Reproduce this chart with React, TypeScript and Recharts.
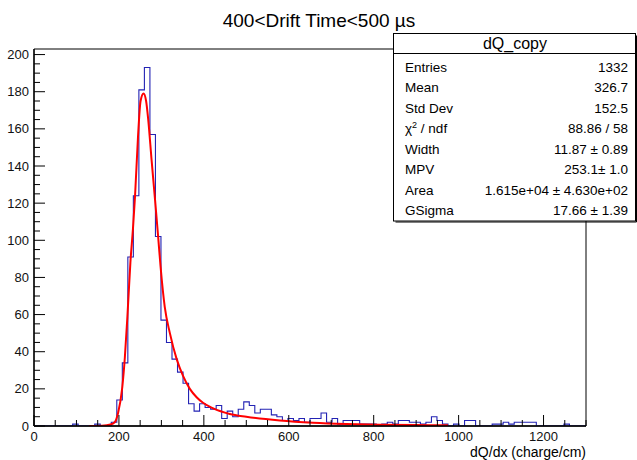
import React from 'react';
import { LineChart, Line, XAxis, YAxis, ReferenceArea } from 'recharts';

// Histogram: 100 bins of width 13 from 0 to 1300
const BIN_WIDTH = 13;
const binCounts = [
  0, 0, 0, 0, 0, 0, 0, 1, 0, 0,
  0, 1, 0, 0, 2, 14, 34, 91, 124, 181,
  193, 157, 102, 57, 45, 36, 29, 23, 12, 8,
  12, 10, 9, 11, 4, 8, 5, 9, 13, 11,
  7, 9, 9, 6, 5, 3, 4, 3, 4, 2,
  4, 4, 7, 2, 4, 1, 3, 3, 3, 1,
  1, 1, 0, 1, 2, 1, 3, 3, 2, 2,
  1, 2, 5, 3, 1, 0, 1, 0, 3, 3,
  0, 0, 0, 1, 1, 2, 1, 2, 2, 2,
  2, 0, 0, 0, 0, 0, 1, 0, 0, 0,
];

// Landau (x) Gauss fit curve
const fitX = [130, 160, 180, 190, 198, 208, 214, 220, 227, 233, 238, 245, 251, 258, 264, 269, 277, 285, 292, 298, 308, 320, 336, 351, 367, 383, 398, 422, 461, 500, 579, 657, 736, 814, 900, 975];
const fitY = [0, 0.2, 0.8, 2, 7, 21, 37, 59, 88, 106, 124, 156, 175, 179, 175, 165, 143, 122, 103, 86, 64, 50, 36, 27, 20, 15.5, 12.5, 9.5, 6.5, 5, 3, 1.8, 1.1, 0.7, 0.5, 0.4];

const xTicks = [0, 50, 100, 150, 200, 250, 300, 350, 400, 450, 500, 550, 600, 650, 700, 750, 800, 850, 900, 950, 1000, 1050, 1100, 1150, 1200, 1250, 1300];
const xLabelTicks = [0, 200, 400, 600, 800, 1000, 1200];
const yTicks = [0, 5, 10, 15, 20, 25, 30, 35, 40, 45, 50, 55, 60, 65, 70, 75, 80, 85, 90, 95, 100, 105, 110, 115, 120, 125, 130, 135, 140, 145, 150, 155, 160, 165, 170, 175, 180, 185, 190, 195, 200];
const yLabelTicks = [0, 20, 40, 60, 80, 100, 120, 140, 160, 180, 200];

const titleText = '400<Drift Time<500 µs';
const xAxisTitle = 'dQ/dx (charge/cm)';
const statsTitle = 'dQ_copy';
const statsNames = ['Entries', 'Mean', 'Std Dev', 'CHI2', 'Width', 'MPV', 'Area', 'GSigma'];
const statsValues = ['1332', '326.7', '152.5', '88.86 / 58', '11.87 ± 0.89', '253.1± 1.0', '1.615e+04 ± 4.630e+02', '17.66 ± 1.39'];

const histData = [
  ...binCounts.map((c, i) => ({ x: i * BIN_WIDTH, count: c })),
  { x: binCounts.length * BIN_WIDTH, count: binCounts[binCounts.length - 1] },
];
const fitData = fitX.map((x, i) => ({ x, fit: fitY[i] }));

const FONT = '"Liberation Sans", Arial, Helvetica, sans-serif';

const XTick = (props: any) => {
  const { x, y, payload } = props;
  const v = payload.value;
  const major = xLabelTicks.includes(v);
  return (
    <g>
      <line x1={x} x2={x} y1={y} y2={y - (major ? 11 : 6)} stroke="#000" strokeWidth={1} />
      {major && (
        <text x={x} y={y + 15} textAnchor="middle" fontSize={13} fontFamily={FONT} fill="#111">
          {v}
        </text>
      )}
    </g>
  );
};

const YTick = (props: any) => {
  const { x, y, payload } = props;
  const v = payload.value;
  const major = yLabelTicks.includes(v);
  return (
    <g>
      <line x1={x} x2={x + (major ? 11 : 6)} y1={y} y2={y} stroke="#000" strokeWidth={1} />
      {major && (
        <text x={x - 5} y={y + 4.5} textAnchor="end" fontSize={13} fontFamily={FONT} fill="#111">
          {v}
        </text>
      )}
    </g>
  );
};

export default function App() {
  const boxLeft = 393.5;
  const boxRight = 635.5;
  const boxTop = 33.5;
  const boxBottom = 221;
  return (
    <div style={{ position: 'absolute', left: 0, top: 0, width: 637, height: 460, background: '#fff' }}>
      <LineChart width={637} height={460} margin={{ top: 49, right: 51, bottom: 0, left: 0 }}>
        <XAxis
          dataKey="x"
          type="number"
          domain={[0, 1300]}
          ticks={xTicks}
          interval={0}
          tickSize={0}
          tickMargin={0}
          height={34}
          allowDataOverflow
          axisLine={{ stroke: '#000', strokeWidth: 1.3 }}
          tick={<XTick />}
        />
        <YAxis
          type="number"
          domain={[0, 203]}
          ticks={yTicks}
          interval={0}
          tickSize={0}
          tickMargin={0}
          width={34}
          allowDataOverflow
          axisLine={{ stroke: '#000', strokeWidth: 1.3 }}
          tick={<YTick />}
        />
        <ReferenceArea x1={0} x2={1300} y1={0} y2={203} fill="none" stroke="#000" strokeWidth={1} />
        <Line
          data={histData}
          dataKey="count"
          type="stepAfter"
          stroke="#2323b4"
          strokeWidth={1.1}
          dot={false}
          isAnimationActive={false}
        />
        <Line
          data={fitData}
          dataKey="fit"
          type="monotone"
          stroke="#ff0000"
          strokeWidth={2}
          dot={false}
          isAnimationActive={false}
        />
      </LineChart>
      <svg width={637} height={460} style={{ position: 'absolute', left: 0, top: 0, pointerEvents: 'none' }}>
        <text x={319} y={27} textAnchor="middle" fontSize={19} fontFamily={FONT} fill="#000">
          {titleText}
        </text>
        <text x={586} y={457} textAnchor="end" fontSize={14} fontFamily={FONT} fill="#000">
          {xAxisTitle}
        </text>
        <line x1={boxLeft + 2} x2={boxRight + 1} y1={boxBottom + 1} y2={boxBottom + 1} stroke="#000" strokeWidth={1} />
        <line x1={boxRight + 1} x2={boxRight + 1} y1={boxTop + 2} y2={boxBottom + 1} stroke="#000" strokeWidth={1} />
        <rect x={boxLeft} y={boxTop} width={boxRight - boxLeft} height={boxBottom - boxTop} fill="#fff" stroke="#000" strokeWidth={1} />
        <line x1={boxLeft} x2={boxRight} y1={53.5} y2={53.5} stroke="#000" strokeWidth={1} />
        <text x={515} y={49} textAnchor="middle" fontSize={16} fontFamily={FONT} fill="#000">
          {statsTitle}
        </text>
        {statsNames.map((name, i) => (
          <g key={name}>
            <text x={405} y={71.5 + i * 20.5} fontSize={13.5} fontFamily={FONT} fill="#000">
              {name === 'CHI2' ? (
                <>
                  <tspan>χ</tspan>
                  <tspan dy={-5} fontSize={9}>2</tspan>
                  <tspan dy={5}> / ndf</tspan>
                </>
              ) : (
                name
              )}
            </text>
            <text x={628} y={71.5 + i * 20.5} textAnchor="end" fontSize={13.5} fontFamily={FONT} fill="#000">
              {statsValues[i]}
            </text>
          </g>
        ))}
      </svg>
    </div>
  );
}
